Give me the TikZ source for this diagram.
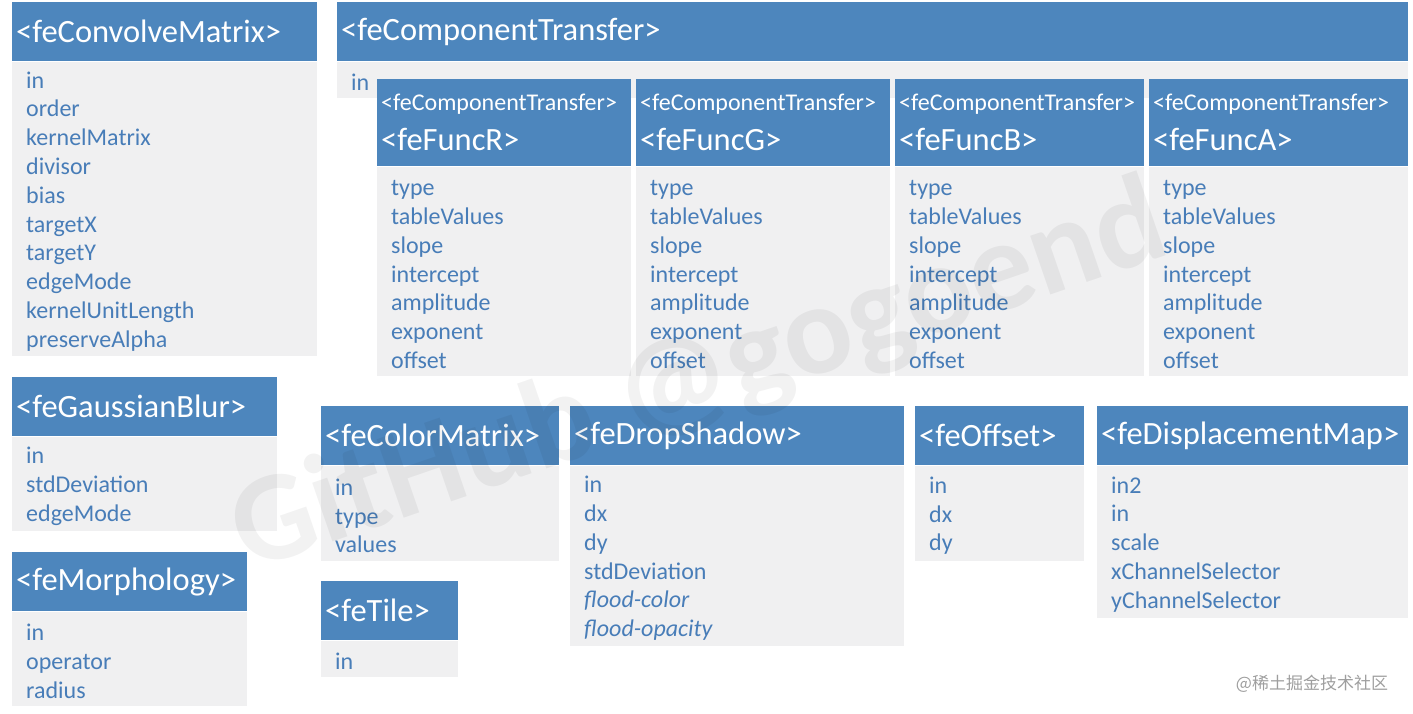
\documentclass[tikz,border=0pt]{standalone}
\usepackage{fontspec}
\setmainfont{Carlito}
\newfontfamily\cjkfont{Noto Sans CJK SC}
\usetikzlibrary{positioning}
\definecolor{headblue}{RGB}{77,134,189}
\definecolor{bodygray}{RGB}{240,240,241}
\definecolor{attrblue}{RGB}{72,125,184}
\tikzset{
  elemhead/.style={rectangle, fill=headblue, text=white, align=left, anchor=north west, inner xsep=4pt, inner ysep=0pt, minimum height=59pt, font=\fontsize{32.5}{34}\selectfont},
  elembody/.style={rectangle, fill=bodygray, text=attrblue, align=left, inner xsep=14pt, inner ysep=0pt, text height=22pt, font=\fontsize{24}{28.8}\selectfont},
  funchead/.style={elemhead, minimum height=87pt},
  funcbody/.style={elembody, minimum height=209pt},
  watermark/.style={font=\bfseries\fontsize{128}{128}\selectfont, text=black, text opacity=0.05, rotate=19},
  credit/.style={font=\cjkfont\fontsize{17}{17}\selectfont, text=black!38}
}
\newcommand{\subtag}{{\fontsize{24}{24}\selectfont <feComponentTransfer>}\\[6pt]}

\begin{document}
\begin{tikzpicture}[x=1pt, y=-1pt]
\useasboundingbox (0,0) rectangle (1413,714);

% left column
\node[elemhead, text width=297pt] (cvmhead) at (12,2) {<feConvolveMatrix>};
\node[elembody, text width=277pt, minimum height=294pt, below right=0pt and 0pt of cvmhead.south west] (cvmbody)
  {in\\order\\kernelMatrix\\divisor\\bias\\targetX\\targetY\\edgeMode\\kernelUnitLength\\preserveAlpha};
\node[elemhead, text width=257pt] (gblurhead) at (12,377) {<feGaussianBlur>};
\node[elembody, text width=237pt, minimum height=94pt, below right=0pt and 0pt of gblurhead.south west] (gblurbody)
  {in\\stdDeviation\\edgeMode};
\node[elemhead, text width=227pt] (morphhead) at (12,552) {<feMorphology>};
\node[elembody, text width=207pt, minimum height=94pt, below right=0pt and 0pt of morphhead.south west] (morphbody)
  {in\\operator\\radius};

% component transfer
\node[elemhead, text width=1063pt] (ctrhead) at (337,2) {<feComponentTransfer>};
\node[elembody, text width=1043pt, minimum height=36pt, below right=0pt and 0pt of ctrhead.south west] (ctrbody) {in};

\node[funchead, text width=246pt] (funcrhead) at (377,79) {\subtag<feFuncR>};
\node[funchead, text width=246pt] (funcghead) at (636,79) {\subtag<feFuncG>};
\node[funchead, text width=241pt] (funcbhead) at (895,79) {\subtag<feFuncB>};
\node[funchead, text width=251pt] (funcahead) at (1149,79) {\subtag<feFuncA>};
\node[funcbody, text width=226pt, below right=0pt and 0pt of funcrhead.south west] (funcrbody)
  {type\\tableValues\\slope\\intercept\\amplitude\\exponent\\offset};
\node[funcbody, text width=226pt, below right=0pt and 0pt of funcghead.south west] (funcgbody)
  {type\\tableValues\\slope\\intercept\\amplitude\\exponent\\offset};
\node[funcbody, text width=221pt, below right=0pt and 0pt of funcbhead.south west] (funcbbody)
  {type\\tableValues\\slope\\intercept\\amplitude\\exponent\\offset};
\node[funcbody, text width=231pt, below right=0pt and 0pt of funcahead.south west] (funcabody)
  {type\\tableValues\\slope\\intercept\\amplitude\\exponent\\offset};

% lower row
\node[elemhead, text width=230pt] (cmathead) at (321,406) {<feColorMatrix>};
\node[elembody, text width=210pt, minimum height=95pt, below right=0pt and 0pt of cmathead.south west] (cmatbody)
  {in\\type\\values};
\node[elemhead, text width=129pt] (tilehead) at (321,581) {<feTile>};
\node[elembody, text width=109pt, minimum height=36pt, below right=0pt and 0pt of tilehead.south west] (tilebody) {in};
\node[elemhead, text width=326pt] (shadowhead) at (570,406) {<feDropShadow>};
\node[elembody, text width=306pt, minimum height=180pt, below right=0pt and 0pt of shadowhead.south west] (shadowbody)
  {in\\dx\\dy\\stdDeviation\\\textit{flood-color}\\\textit{flood-opacity}};
\node[elemhead, text width=161pt] (offsethead) at (915,406) {<feOffset>};
\node[elembody, text width=141pt, minimum height=95pt, below right=0pt and 0pt of offsethead.south west] (offsetbody)
  {in\\dx\\dy};
\node[elemhead, text width=303pt] (dmaphead) at (1097,406) {<feDisplacementMap>};
\node[elembody, text width=283pt, minimum height=152pt, below right=0pt and 0pt of dmaphead.south west] (dmapbody)
  {in2\\in\\scale\\xChannelSelector\\yChannelSelector};

% marks
\node[watermark] (mark) at (700,380) {GitHub @gogoend};
\node[credit] (site) at (1312,684) {@稀土掘金技术社区};
\end{tikzpicture}
\end{document}
